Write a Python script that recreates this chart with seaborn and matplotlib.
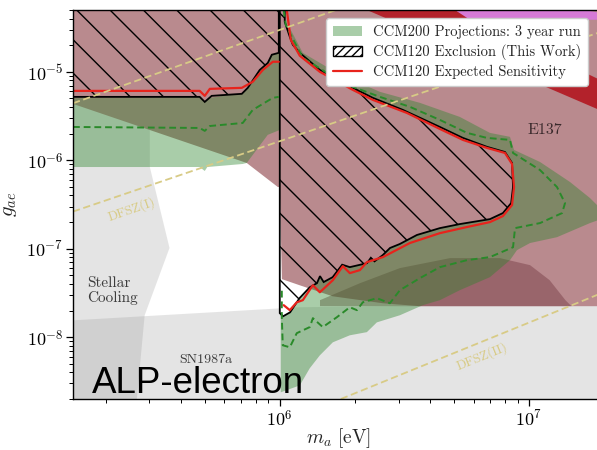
import numpy as np
import pandas as pd
import matplotlib
matplotlib.use("Agg")
import matplotlib.pyplot as plt
from matplotlib.patches import Patch, Polygon
from matplotlib.lines import Line2D
from matplotlib.ticker import FixedLocator, FuncFormatter, LogLocator, NullFormatter
import seaborn as sns

# ---------------------------------------------------------------------------
# ALP mass m_a [eV] and electron coupling g_ae for every contour
# ---------------------------------------------------------------------------
stellar_m = [1.48e5, 3.01e5, 3.01e5, 3.61e5, 2.87e5, 2.67e5, 1.48e5]
stellar_g = [5e-5, 5e-5, 8.39e-7, 1.02e-7, 1.77e-8, 2e-9, 2e-9]

sn_m = [1.48e5, 1.20e6, 2.0e7, 2.0e7, 1.48e5]
sn_g = [1.55e-8, 2.18e-8, 2.4e-8, 2e-9, 2e-9]

e137_m = [1.48e5, 2.0e7, 2.0e7, 3.65e6, 2.59e6, 1.63e6, 1.20e6, 1.02e6,
          1.0e6, 9.82e5, 7.37e5, 1.48e5]
e137_g = [5e-5, 5e-5, 2.24e-8, 2.24e-8, 2.42e-8, 2.90e-8, 3.87e-8, 4.53e-8,
          4.99e-7, 4.99e-7, 9.32e-7, 4.34e-6]

band_mag_m = [5.05e6, 1.68e7, 2.0e7, 2.0e7, 5.79e6]
band_mag_g = [5e-5, 5e-5, 4.54e-5, 3.88e-5, 3.88e-5]

band_red_m = [2.236e6, 5.05e6, 2.0e7, 2.0e7]
band_red_g = [5e-5, 5e-5, 7.71e-6, 3.52e-6]

mauve_m = [1.45e6, 2.10e6, 3.03e6, 4.82e6, 7.65e6, 1.01e7, 1.21e7, 1.40e7, 1.48e7, 1.45e6]
mauve_g = [2.62e-8, 4.08e-8, 6.03e-8, 7.83e-8, 7.83e-8, 6.52e-8, 4.41e-8, 2.62e-8, 2.24e-8, 2.24e-8]

# CCM200 projected reach (filled)
ccm200_left_m = [1.48e5, 4.77e5, 5.0e5, 5.24e5, 7.04e5, 7.37e5, 8.31e5, 8.95e5, 9.12e5,
                 9.38e5, 1.0e6, 1.0e6, 8.95e5, 7.37e5, 7.10e5, 5.12e5, 5.0e5, 4.77e5, 1.48e5]
ccm200_left_g = [5.08e-6, 5.21e-6, 4.57e-6, 5.08e-6, 5.78e-6, 6.59e-6, 1.05e-5, 1.26e-5, 1.52e-5,
                 1.64e-5, 1.68e-5, 2.20e-6, 1.94e-6, 9.32e-7, 9.08e-7, 8.39e-7, 7.57e-7, 8.39e-7, 8.39e-7]

ccm200_right_m = [1.009e6, 1.047e6, 1.117e6, 1.237e6, 1.694e6, 2.521e6, 3.649e6, 5.28e6,
                  6.97e6, 8.39e6, 8.71e6, 1.107e7, 1.461e7, 1.757e7, 2.0e7, 2.0e7, 1.757e7,
                  1.295e7, 1.01e7, 8.95e6, 8.39e6, 6.97e6, 5.28e6, 4.39e6, 3.75e6, 3.034e6,
                  2.452e6, 2.236e6, 1.91e6, 1.633e6, 1.448e6, 1.319e6, 1.203e6, 1.009e6]
ccm200_right_g = [5e-5, 3.68e-5, 2.84e-5, 1.64e-5, 9.74e-6, 5.94e-6, 4.46e-6, 3.09e-6,
                  2.04e-6, 1.84e-6, 1.31e-6, 9.57e-7, 5.68e-7, 3.74e-7, 2.60e-7, 2.22e-7, 1.95e-7,
                  1.35e-7, 1.16e-7, 9.64e-8, 7.43e-8, 4.77e-8, 3.40e-8, 2.62e-8, 2.30e-8, 1.77e-8,
                  1.47e-8, 1.14e-8, 1.05e-8, 8.75e-9, 6.23e-9, 4.45e-9, 2.85e-9, 2.38e-9]

# CCM200 projected median (dashed)
proj_left_m = [1.48e5, 4.77e5, 5.0e5, 5.24e5, 7.10e5, 7.79e5, 9.38e5, 9.91e5]
proj_left_g = [2.38e-6, 2.32e-6, 2.15e-6, 2.44e-6, 2.64e-6, 3.71e-6, 5.08e-6, 5.21e-6]

proj_right_m = [1.037e6, 1.057e6, 1.117e6, 1.237e6, 1.545e6, 1.964e6, 2.521e6, 3.327e6,
                4.39e6, 5.64e6, 6.78e6, 8.39e6, 8.63e6, 1.107e7, 1.295e7, 1.395e7, 1.358e7,
                1.107e7, 8.79e6, 8.63e6, 6.97e6, 5.64e6, 4.39e6, 3.649e6, 3.034e6, 2.765e6,
                2.452e6, 2.154e6, 2.04e6, 1.91e6, 1.694e6, 1.488e6, 1.358e6, 1.319e6, 1.17e6,
                1.097e6, 1.028e6, 1.019e6, 1.019e6]
proj_right_g = [5e-5, 3.40e-5, 2.49e-5, 1.44e-5, 9.74e-6, 6.76e-6, 5.21e-6, 4.02e-6,
                2.86e-6, 2.04e-6, 1.79e-6, 1.70e-6, 1.21e-6, 7.76e-7, 4.99e-7, 3.28e-7, 2.53e-7,
                1.95e-7, 1.71e-7, 1.04e-7, 8.04e-8, 7.43e-8, 6.19e-8, 4.65e-8, 3.40e-8, 2.42e-8,
                2.76e-8, 2.48e-8, 2.02e-8, 2.18e-8, 1.68e-8, 1.30e-8, 1.64e-8, 1.30e-8, 1.11e-8,
                7.69e-9, 8.10e-9, 1.68e-8, 3.40e-8]

# CCM120 exclusion (this work)
excl_left_m = [1.48e5, 4.77e5, 5.0e5, 5.33e5, 7.04e5, 7.44e5, 8.31e5, 8.95e5, 9.29e5, 9.91e5]
excl_left_g = [5.21e-6, 5.21e-6, 4.57e-6, 5.35e-6, 5.64e-6, 6.59e-6, 1.05e-5, 1.26e-5, 1.56e-5, 1.64e-5]

excl_right_m = [1.0e6, 1.047e6, 1.047e6, 1.097e6, 1.128e6, 1.203e6, 1.448e6, 1.964e6, 2.362e6,
                3.119e6, 4.39e6, 5.43e6, 6.78e6, 8.01e6, 8.55e6, 8.63e6, 8.48e6, 7.86e6, 6.97e6,
                5.28e6, 4.39e6, 3.55e6, 3.03e6, 2.77e6, 2.59e6, 2.40e6, 2.32e6, 2.24e6, 1.91e6,
                1.78e6, 1.63e6, 1.50e6, 1.45e6, 1.41e6, 1.32e6, 1.20e6, 1.10e6, 1.03e6, 1.0e6]
excl_right_g = [5e-5, 5e-5, 3.68e-5, 2.49e-5, 2.02e-5, 1.64e-5, 1.05e-5, 6.59e-6, 5.08e-6,
                3.71e-6, 2.38e-6, 1.79e-6, 1.42e-6, 1.24e-6, 9.32e-7, 4.99e-7, 3.28e-7, 2.53e-7, 2.16e-7,
                1.90e-7, 1.71e-7, 1.43e-7, 1.13e-7, 1.02e-7, 8.47e-8, 7.2e-8, 7.9e-8, 6.87e-8, 6.19e-8,
                6.6e-8, 4.77e-8, 4.2e-8, 4.9e-8, 4.08e-8, 3.67e-8, 2.76e-8, 1.91e-8, 1.72e-8, 1.87e-8]

# CCM120 expected sensitivity
sens_left_m = [1.48e5, 4.77e5, 5.0e5, 5.24e5, 7.04e5, 7.79e5, 8.55e5, 9.38e5, 9.91e5]
sens_left_g = [6.09e-6, 6.09e-6, 5.35e-6, 6.42e-6, 6.59e-6, 7.71e-6, 1.05e-5, 1.30e-5, 1.30e-5]

sens_right_m = [1.067e6, 1.107e6, 1.203e6, 1.448e6, 1.964e6, 2.362e6, 3.236e6, 4.39e6,
                5.43e6, 6.78e6, 8.01e6, 8.55e6, 8.71e6, 8.55e6, 7.86e6, 6.97e6, 5.64e6,
                4.39e6, 3.327e6, 2.592e6, 2.236e6, 2.096e6, 1.91e6, 1.791e6, 1.633e6,
                1.448e6, 1.358e6, 1.237e6, 1.17e6, 1.097e6, 1.037e6]
sens_right_g = [5e-5, 2.30e-5, 1.52e-5, 1.0e-5, 6.25e-6, 4.82e-6, 3.43e-6, 2.26e-6,
                1.70e-6, 1.38e-6, 1.21e-6, 9.08e-7, 4.99e-7, 3.12e-7, 2.34e-7, 2.0e-7, 1.76e-7,
                1.50e-7, 1.16e-7, 8.04e-8, 7.05e-8, 5.73e-8, 5.30e-8, 6.35e-8, 4.41e-8,
                3.22e-8, 3.87e-8, 2.62e-8, 2.48e-8, 2.02e-8, 2.30e-8]

# DFSZ benchmark lines (end points)
dfsz1_up_m, dfsz1_up_g = [1.48e5, 1.679e6], [4.41e-6, 5e-5]
dfsz1_lo_m, dfsz1_lo_g = [1.48e5, 2.0e7], [2.63e-7, 2.91e-5]
dfsz2_m, dfsz2_g = [1.758e6, 2.0e7], [2e-9, 3.23e-8]

x_ticks = [1e6, 1e7]
y_ticks = [1e-8, 1e-7, 1e-6, 1e-5]
legend_labels = ["CCM200 Projections: 3 year run",
                 "CCM120 Exclusion (This Work)",
                 "CCM120 Expected Sensitivity"]

# ---------------------------------------------------------------------------
sns.set_theme(style="ticks")
plt.rcParams.update({
    "mathtext.fontset": "cm",
    "font.family": ["cmr10", "DejaVu Serif"],
    "axes.formatter.use_mathtext": True,
    "axes.unicode_minus": False,
    "hatch.linewidth": 1.0,
    "axes.edgecolor": "black",
    "axes.linewidth": 1.0,
    "xtick.color": "black",
    "ytick.color": "black",
})

ROSE = "#b98a8e"
GREEN = "#2a842a"
GALPHA = 0.4
GREY = "#969696"
RED = "#e8231c"
DASHGREEN = "#2a8a2a"
TAN = "#d8cb86"

fig = plt.figure(figsize=(5.97, 4.5), dpi=100)
ax = fig.add_axes([73 / 597, 51 / 450, 531 / 597, 389 / 450])
ax.set_xscale("log")
ax.set_yscale("log")
ax.set_xlim(1.48e5, 2.0e7)
ax.set_ylim(2e-9, 5e-5)

# astrophysical bounds
ax.fill(stellar_m, stellar_g, color=GREY, alpha=0.25, lw=0, zorder=1)
ax.fill(sn_m, sn_g, color=GREY, alpha=0.25, lw=0, zorder=1)

# beam-dump bounds
ax.fill(e137_m, e137_g, color=ROSE, lw=0, zorder=2)
ax.fill(band_red_m, band_red_g, color="#b3222b", lw=0, zorder=2.1)
ax.fill(band_mag_m, band_mag_g, color="#d67ad6", lw=0, zorder=2.1)
ax.fill(mauve_m, mauve_g, color="#6e323c", alpha=0.42, lw=0, zorder=2.2)

# CCM200 projection
ax.fill(ccm200_left_m, ccm200_left_g, color=GREEN, alpha=GALPHA, lw=0, zorder=3)
ax.fill(ccm200_right_m, ccm200_right_g, color=GREEN, alpha=GALPHA, lw=0, zorder=3)

# CCM120 exclusion: blank interior with the beam-dump colour re-laid, then hatch
for em, eg in [(excl_left_m + [9.91e5, 1.48e5], excl_left_g + [5e-5, 5e-5]),
               (excl_right_m, excl_right_g)]:
    ax.fill(em, eg, color="white", lw=0, zorder=4)
    clip = Polygon(np.column_stack([em, eg]), closed=True, transform=ax.transData)
    rose = ax.fill(e137_m, e137_g, color=ROSE, lw=0, zorder=4.1)[0]
    rose.set_clip_path(clip)
    ax.fill(em, eg, facecolor="none", edgecolor="black", hatch="\\", lw=1.3, zorder=4.2)

# DFSZ lines
for lm, lg in [(dfsz1_up_m, dfsz1_up_g), (dfsz1_lo_m, dfsz1_lo_g), (dfsz2_m, dfsz2_g)]:
    sns.lineplot(x=lm, y=lg, ax=ax, color=TAN, lw=1.3, sort=False,
                 estimator=None, legend=False, zorder=6, linestyle=(0, (4, 2)))

# contour lines
for lm, lg in [(proj_left_m, proj_left_g), (proj_right_m, proj_right_g)]:
    sns.lineplot(x=lm, y=lg, ax=ax, color=DASHGREEN, lw=1.4, sort=False,
                 estimator=None, legend=False, zorder=5, linestyle=(0, (3.5, 2)))
for lm, lg in [(sens_left_m, sens_left_g), (sens_right_m, sens_right_g)]:
    sns.lineplot(x=lm, y=lg, ax=ax, color=RED, lw=1.6, sort=False,
                 estimator=None, legend=False, zorder=5.5)

# region labels
lab_kw = dict(transform=ax.transAxes, family=["cmr10", "DejaVu Serif"], zorder=7)
ax.text(0.026, 0.278, "Stellar\nCooling", fontsize=11, color="#3c3c3c", ha="left",
        va="center", linespacing=1.05, **lab_kw)
ax.text(0.250, 0.100, "SN1987a", fontsize=10, color="#3c3c3c", ha="center", va="center", **lab_kw)
ax.text(0.889, 0.692, "E137", fontsize=11.5, color="#3a2a2c", ha="center", va="center",
        fontweight="bold", **lab_kw)
ax.text(0.110, 0.487, "DFSZ(I)", fontsize=9.5, color=TAN, rotation=19, ha="center",
        va="center", rotation_mode="anchor", **lab_kw)
ax.text(0.770, 0.108, "DFSZ(II)", fontsize=9.5, color=TAN, rotation=22, ha="center",
        va="center", rotation_mode="anchor", **lab_kw)
ax.text(0.036, 0.0154, "ALP-electron", fontsize=26.5, color="black", ha="left",
        va="baseline", transform=ax.transAxes, family="Liberation Sans", zorder=8)

# axes
ax.xaxis.set_major_locator(FixedLocator(x_ticks))
ax.yaxis.set_major_locator(FixedLocator(y_ticks))
fmt = FuncFormatter(lambda v, p: "$10^{%d}$" % int(round(np.log10(v))))
ax.xaxis.set_major_formatter(fmt)
ax.yaxis.set_major_formatter(fmt)
ax.xaxis.set_minor_locator(LogLocator(base=10, subs=np.arange(2, 10), numticks=20))
ax.yaxis.set_minor_locator(LogLocator(base=10, subs=np.arange(2, 10), numticks=20))
ax.xaxis.set_minor_formatter(NullFormatter())
ax.yaxis.set_minor_formatter(NullFormatter())
ax.tick_params(which="major", direction="out", length=5, width=0.9, labelsize=13, pad=2)
ax.tick_params(which="minor", direction="out", length=2.8, width=0.7)
ax.set_xlabel(r"$m_a\ [\mathrm{eV}]$", fontsize=14, labelpad=-2)
ax.set_ylabel(r"$g_{ae}$", fontsize=15, labelpad=5)
for s in ["top", "right", "left", "bottom"]:
    ax.spines[s].set_visible(True)
    ax.spines[s].set_zorder(9)

handles = [Patch(facecolor=GREEN, alpha=GALPHA, edgecolor="none", label=legend_labels[0]),
           Patch(facecolor="white", edgecolor="black", hatch="////", label=legend_labels[1]),
           Line2D([], [], color=RED, lw=1.6, label=legend_labels[2])]
leg = ax.legend(handles=handles, loc="upper right", bbox_to_anchor=(0.970, 0.979),
                borderaxespad=0, prop={"family": ["cmr10", "DejaVu Serif"], "size": 10.5},
                frameon=True, framealpha=1.0, edgecolor="#cccccc", fancybox=True,
                handlelength=2.0, handletextpad=0.8, labelspacing=0.35, borderpad=0.45)
leg.set_zorder(10)

fig.savefig("out.png", dpi=100)
